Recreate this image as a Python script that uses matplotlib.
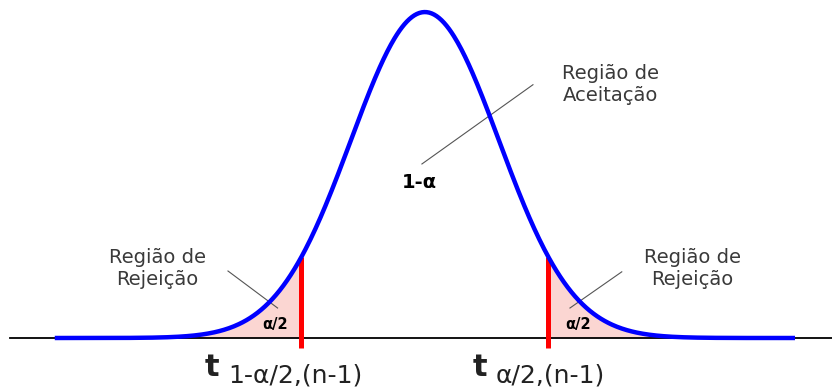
import numpy as np
import matplotlib.pyplot as plt

# curve parameters (standard bell curve)
mu = 0.0
sigma = 1.0
x_start, x_end = -5.0, 5.0
t_left = -1.67
t_right = 1.67

label_accept = 'Região de\nAceitação'
label_reject = 'Região de\nRejeição'
label_center = '1-α'
label_tail = 'α/2'
sub_left = '1-α/2,(n-1)'
sub_right = 'α/2,(n-1)'


def pdf(x):
    return np.exp(-0.5 * ((x - mu) / sigma) ** 2) / (sigma * np.sqrt(2 * np.pi))


fig = plt.figure(figsize=(8.32, 3.88), dpi=100)
ax = fig.add_axes([0, 0, 1, 1])
ax.set_xlim(-5.74, 5.50)
ax.set_ylim(-0.0612, 0.4137)
ax.axis('off')

xs = np.linspace(x_start, x_end, 600)
ys = pdf(xs)

# baseline
ax.plot([-5.61, 5.5], [0, 0], color='black', lw=1.3, zorder=1)

# shaded tails
xl = np.append(xs[xs <= t_left], t_left)
xr = np.insert(xs[xs >= t_right], 0, t_right)
ax.fill_between(xl, 0, pdf(xl), color='#fbd6d2', lw=0, zorder=0)
ax.fill_between(xr, 0, pdf(xr), color='#fbd6d2', lw=0, zorder=0)

# curve
ax.plot(xs, ys, color='#0000ff', lw=3.2, zorder=3, solid_capstyle='butt')

# critical lines
for t in (t_left, t_right):
    ax.plot([t, t], [-0.0125, pdf(t)], color='#ff0000', lw=3.6, zorder=2, solid_capstyle='butt')

txt = '#3a3a3a'
ax.text(2.51, 0.310, label_accept, ha='center', va='center', fontsize=14,
        color=txt, linespacing=1.2)
ax.plot([1.46, -0.04], [0.310, 0.213], color='#555555', lw=0.8)
ax.text(-0.07, 0.190, label_center, ha='center', va='center', fontsize=14,
        fontweight='bold', color='black')

ax.text(-3.61, 0.085, label_reject, ha='center', va='center', fontsize=14,
        color=txt, linespacing=1.2)
ax.plot([-2.66, -1.99], [0.082, 0.0367], color='#555555', lw=0.8)
ax.text(-2.03, 0.0171, label_tail, ha='center', va='center', fontsize=10.5,
        fontweight='bold', color='black')

ax.text(3.61, 0.085, label_reject, ha='center', va='center', fontsize=14,
        color=txt, linespacing=1.2)
ax.plot([2.66, 1.96], [0.081, 0.0367], color='#555555', lw=0.8)
ax.text(2.07, 0.0165, label_tail, ha='center', va='center', fontsize=10.5,
        fontweight='bold', color='black')

# critical value labels
ax.text(-2.97, -0.0465, 't', ha='left', va='baseline', fontsize=22,
        fontweight='bold', color='#222222')
ax.text(-2.66, -0.0539, sub_left, ha='left', va='baseline', fontsize=18, color='#222222')
ax.text(0.65, -0.0465, 't', ha='left', va='baseline', fontsize=22,
        fontweight='bold', color='#222222')
ax.text(0.95, -0.0539, sub_right, ha='left', va='baseline', fontsize=18, color='#222222')

fig.savefig('out.png', dpi=100)
